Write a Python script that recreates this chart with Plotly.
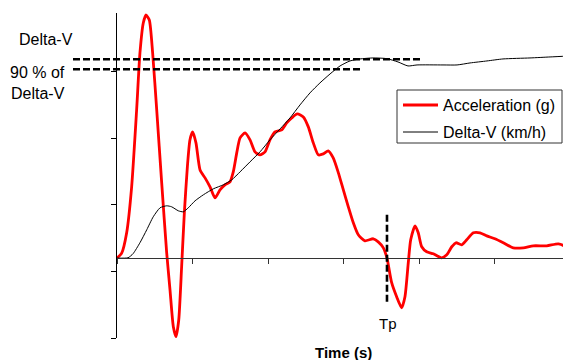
import plotly.graph_objects as go

# ---- data ----
time_acc = [0.000, 0.0031, 0.0064, 0.0097, 0.0130, 0.0152, 0.0174, 0.0192, 0.0214, 0.0236,
            0.0263, 0.0296, 0.0329, 0.0351, 0.0373, 0.0391, 0.0409, 0.0428, 0.0446, 0.0466,
            0.0483, 0.0501, 0.0523, 0.0550, 0.0583, 0.0616, 0.0649, 0.0682, 0.0715, 0.0748,
            0.0770, 0.0793, 0.0815, 0.0848, 0.0881, 0.0914, 0.0947, 0.0980, 0.1013, 0.1046,
            0.1091, 0.1124, 0.1157, 0.1194, 0.1234, 0.1267, 0.1300, 0.1333, 0.1366, 0.1399,
            0.1432, 0.1466, 0.1499, 0.1532, 0.1565, 0.1598, 0.1642, 0.1697, 0.1730, 0.1764,
            0.1788, 0.1819, 0.1852, 0.1885, 0.1907, 0.1929, 0.1945, 0.1974, 0.1995, 0.2018,
            0.2051, 0.2095, 0.2150, 0.2184, 0.2217, 0.2245, 0.2283, 0.2316, 0.2360, 0.2404,
            0.2449, 0.2503, 0.2558, 0.2624, 0.2691, 0.2757, 0.2846, 0.2923, 0.2967, 0.3000]
acceleration_g = [0, 3.7, 19.0, 53.5, 111.2, 154.0, 176.5, 182.5, 178.7, 154.0,
                  111.2, 56.5, 4.0, -23.8, -51.5, -59.0, -46.3, -6.5, 34.0, 68.5,
                  88.7, 94.7, 86.5, 66.2, 60.2, 53.5, 45.2, 51.2, 55.0, 57.2,
                  64.7, 79.0, 90.2, 94.0, 88.7, 79.7, 77.5, 79.7, 88.7, 94.7,
                  96.2, 101.5, 105.2, 108.2, 106.0, 98.5, 86.5, 77.5, 78.2, 80.5,
                  75.2, 64.0, 51.2, 38.5, 26.5, 17.5, 13.0, 14.5, 12.2, 7.7,
                  0.0, -18.5, -29.0, -37.3, -29.0, -3.5, 13.7, 24.2, 19.0, 8.5,
                  4.7, 3.2, 0.2, 2.5, 8.5, 11.5, 10.0, 13.7, 19.0, 19.0,
                  16.7, 14.5, 11.5, 7.7, 7.7, 9.2, 9.2, 10.7, 8.5, 4.0]

time_dv = [0.0, 0.0073, 0.0106, 0.0152, 0.0197, 0.0240, 0.0285, 0.0329, 0.0362, 0.0406,
           0.0439, 0.0472, 0.0517, 0.0572, 0.0638, 0.0704, 0.0760, 0.0815, 0.0881, 0.0947,
           0.1013, 0.1080, 0.1146, 0.1212, 0.1278, 0.1344, 0.1411, 0.1477, 0.1543, 0.1609,
           0.1695, 0.1786, 0.1861, 0.1927, 0.1987, 0.2159, 0.2252, 0.2338, 0.2450, 0.2556,
           0.2735, 0.2868, 0.3000]
delta_v_kmh = [0.0, 0.1, 1.3, 4.6, 8.5, 12.4, 15.1, 15.7, 15.4, 14.2,
               13.9, 15.1, 17.2, 19.0, 20.8, 22.0, 23.5, 25.9, 28.9, 31.9,
               35.5, 38.8, 42.1, 46.0, 49.6, 52.6, 55.3, 57.7, 59.2, 59.8,
               60.1, 59.9, 58.9, 57.7, 58.0, 58.0, 58.0, 58.6, 59.2, 59.8,
               60.1, 60.4, 60.7]

delta_v_level = 59.7      # km/h
ninety_level = 56.7       # km/h (as drawn)
tp_time = 0.1788          # s

x_ticks = [0.0, 0.05, 0.10, 0.15, 0.20, 0.25, 0.30]
acc_ticks = [-60, -10, 40, 90, 140]
acc_range = [-60, 184]
dv_range = [-24, 73.6]

series_names = ["Acceleration (g)", "Delta-V (km/h)"]

# ---- layout helpers (page pixel -> paper); page body has an 8px margin ----
OFF = 8
W, H = 571, 360
PL, PR, PT, PB = 117, 570, 13, 338   # plot area in page pixels
PW, PH = PR - PL, PB - PT


def px(x):
    return (x - PL) / PW


def py(y):
    return (PB - y) / PH


FONT = "Liberation Sans, Arial, sans-serif"

fig = go.Figure()
fig.add_trace(go.Scatter(x=time_acc, y=acceleration_g, mode="lines", name=series_names[0],
                         line=dict(color="#ff0000", width=2.8, shape="spline", smoothing=0.6),
                         showlegend=False, yaxis="y"))
fig.add_trace(go.Scatter(x=time_dv, y=delta_v_kmh, mode="lines", name=series_names[1],
                         line=dict(color="#000000", width=1, shape="spline", smoothing=0.6),
                         showlegend=False, yaxis="y2"))

zero_frac = (0 - acc_range[0]) / (acc_range[1] - acc_range[0])

shapes = [
    dict(type="line", xref="paper", yref="y2", x0=px(73), x1=px(423),
         y0=delta_v_level, y1=delta_v_level, line=dict(color="black", width=2.6, dash="7px,3px")),
    dict(type="line", xref="paper", yref="y2", x0=px(73), x1=px(360),
         y0=ninety_level, y1=ninety_level, line=dict(color="black", width=2.6, dash="7px,3px")),
    dict(type="line", xref="x", yref="y", x0=tp_time, x1=tp_time, y0=32.5, y1=-32.8,
         line=dict(color="black", width=2.6, dash="7px,3px")),
    dict(type="rect", xref="paper", yref="paper", x0=px(397), x1=px(562), y0=py(143), y1=py(90),
         line=dict(color="#333333", width=1), fillcolor="white", layer="above"),
    dict(type="line", xref="paper", yref="paper", x0=px(403), x1=px(438), y0=py(105), y1=py(105),
         line=dict(color="#ff0000", width=2.8), layer="above"),
    dict(type="line", xref="paper", yref="paper", x0=px(403), x1=px(438), y0=py(132), y1=py(132),
         line=dict(color="#000000", width=1), layer="above"),
]

ann_font = dict(family=FONT, size=16, color="black")
annotations = [
    dict(text=series_names[0], xref="paper", yref="paper", x=px(441), y=py(105),
         xanchor="left", yanchor="middle", showarrow=False, font=ann_font),
    dict(text=series_names[1], xref="paper", yref="paper", x=px(441), y=py(132),
         xanchor="left", yanchor="middle", showarrow=False, font=ann_font),
    dict(text="Delta-V", xref="paper", yref="paper", x=px(17), y=py(40),
         xanchor="left", yanchor="middle", showarrow=False, font=ann_font),
    dict(text="90 % of", xref="paper", yref="paper", x=px(8), y=py(72),
         xanchor="left", yanchor="middle", showarrow=False, font=ann_font),
    dict(text="Delta-V", xref="paper", yref="paper", x=px(9), y=py(93),
         xanchor="left", yanchor="middle", showarrow=False, font=ann_font),
    dict(text="Tp", xref="paper", yref="paper", x=px(388), y=py(323),
         xanchor="center", yanchor="middle", showarrow=False,
         font=dict(family=FONT, size=15, color="black")),
    dict(text="<b>Time (s)</b>", xref="paper", yref="paper", x=px(343), y=py(352),
         xanchor="center", yanchor="middle", showarrow=False,
         font=dict(family=FONT, size=15, color="black")),
]

fig.update_layout(
    width=W - OFF, height=H - OFF,
    margin=dict(l=PL - OFF, r=W - PR, t=PT - OFF, b=H - PB, pad=0),
    paper_bgcolor="white", plot_bgcolor="white",
    showlegend=False,
    font=dict(family=FONT, size=16, color="black"),
    xaxis=dict(range=[0, 0.3], anchor="free", position=zero_frac,
               showline=True, linecolor="#333333", linewidth=1,
               ticks="outside", ticklen=5, tickcolor="#333333", tickwidth=1,
               tickvals=x_ticks, showticklabels=False, showgrid=False, zeroline=False),
    yaxis=dict(range=acc_range, showline=True, linecolor="black", linewidth=1,
               ticks="outside", ticklen=5, tickcolor="black", tickwidth=1,
               tickvals=acc_ticks, showticklabels=False, showgrid=False, zeroline=False),
    yaxis2=dict(range=dv_range, overlaying="y", visible=False, showgrid=False, zeroline=False),
    shapes=shapes,
    annotations=annotations,
)

fig.write_html("out.html")
